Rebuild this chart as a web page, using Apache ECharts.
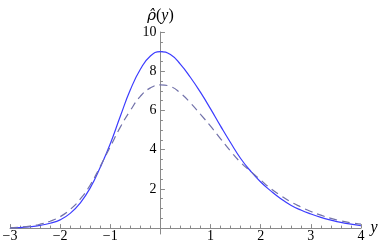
<!DOCTYPE html>
<html>
<head>
<meta charset="utf-8">
<script src="https://cdn.jsdelivr.net/npm/echarts@6/dist/echarts.min.js"></script>
<style>html,body{margin:0;padding:0;background:#fff}#c{width:382px;height:251px}</style>
</head>
<body>
<div id="c"></div>
<script>
const xs = [-3,-2.8,-2.6,-2.4,-2.2,-2,-1.8,-1.6,-1.4,-1.2,-1,-0.8,-0.6,-0.4,-0.2,0,0.2,0.4,0.6,0.8,1,1.2,1.4,1.6,1.8,2,2.2,2.4,2.6,2.8,3,3.2,3.4,3.6,3.8,4];
const solidVals = [0.02,0.03,0.07,0.14,0.25,0.42,0.75,1.28,2.05,3.1,4.3,5.7,7.05,8.1,8.78,9.0,8.85,8.35,7.68,6.92,6.08,5.2,4.35,3.55,2.9,2.35,1.9,1.5,1.17,0.92,0.72,0.55,0.41,0.29,0.2,0.12];
const dashedVals = [0.03,0.05,0.1,0.2,0.35,0.58,0.95,1.48,2.2,3.15,4.15,5.15,6.0,6.72,7.15,7.3,7.22,6.88,6.38,5.8,5.2,4.55,3.92,3.35,2.9,2.45,2.02,1.66,1.34,1.08,0.85,0.66,0.5,0.37,0.27,0.2];
const xTickLabels = [-3,-2,-1,1,2,3,4];
const yTickLabels = [2,4,6,8,10];
const yMinorTicks = [0.5,1,1.5,2.5,3,3.5,4.5,5,5.5,6.5,7,7.5,8.5,9,9.5];

const W = 382, H = 251;
const G = {left: 10, right: 21, top: 32, bottom: 17};
const xMin = -3, xMax = 4, yMin = -0.3, yMax = 10;
const gridW = W - G.left - G.right, gridH = H - G.top - G.bottom;
const yOffset = -gridW * (0 - xMin) / (xMax - xMin);   // move y axis to x = 0
const xOffset = -gridH * (0 - yMin) / (yMax - yMin);   // move x axis to y = 0

const axisColor = '#8a8a8a';
const serif = '"Liberation Serif","DejaVu Serif",serif';
const chart = echarts.init(document.getElementById('c'), null, {renderer: 'canvas'});
chart.setOption({
  animation: false,
  grid: Object.assign({containLabel: false, outerBoundsMode: 'none'}, G),
  xAxis: {
    type: 'value', min: xMin, max: xMax, interval: 1, position: 'bottom', offset: xOffset,
    name: 'y', nameLocation: 'end', nameGap: 7,
    nameTextStyle: {fontFamily: serif, fontStyle: 'italic', fontSize: 16, color: '#000', verticalAlign: 'middle'},
    axisLine: {onZero: false, lineStyle: {color: axisColor, width: 1}},
    axisTick: {show: true, inside: true, length: 4, lineStyle: {color: axisColor}},
    minorTick: {show: true, splitNumber: 5, length: 2.5, lineStyle: {color: axisColor}},
    splitLine: {show: false},
    axisLabel: {
      customValues: xTickLabels,
      margin: 1, fontFamily: serif, fontSize: 14, color: '#000',
      formatter: v => String(v).replace('-', '\u2212')
    }
  },
  yAxis: [{
    type: 'value', min: yMin, max: yMax, position: 'left', offset: yOffset,
    name: '{h|\u03C1\u0302}{n|(}{i|y}{n|)}', nameLocation: 'end', nameGap: 8,
    nameTextStyle: {
      align: 'center',
      rich: {
        h: {fontFamily: '"DejaVu Serif",serif', fontStyle: 'italic', fontSize: 15, color: '#000'},
        i: {fontFamily: serif, fontStyle: 'italic', fontSize: 16, color: '#000'},
        n: {fontFamily: serif, fontSize: 16, color: '#000'}
      }
    },
    axisLine: {show: true, onZero: false, lineStyle: {color: axisColor, width: 1}},
    axisTick: {show: true, inside: true, length: 4.5, customValues: yTickLabels, lineStyle: {color: axisColor}},
    splitLine: {show: false},
    axisLabel: {customValues: yTickLabels, margin: 4, fontFamily: serif, fontSize: 14, color: '#000'}
  }, {
    type: 'value', min: yMin, max: yMax, position: 'left', offset: yOffset,
    axisLine: {show: false, onZero: false},
    axisTick: {show: true, inside: true, length: 2.5, customValues: yMinorTicks, lineStyle: {color: axisColor}},
    splitLine: {show: false},
    axisLabel: {show: false}
  }],
  series: [{
    type: 'line', yAxisIndex: 0, smooth: 0.5, showSymbol: false, silent: true,
    data: xs.map((x, i) => [x, solidVals[i]]),
    lineStyle: {color: '#3c3cff', width: 1.2}
  }, {
    type: 'line', yAxisIndex: 0, smooth: 0.5, showSymbol: false, silent: true,
    data: xs.map((x, i) => [x, dashedVals[i]]),
    lineStyle: {color: '#7272aa', width: 1.2, type: [8, 5]}
  }]
});
</script>
</body>
</html>
